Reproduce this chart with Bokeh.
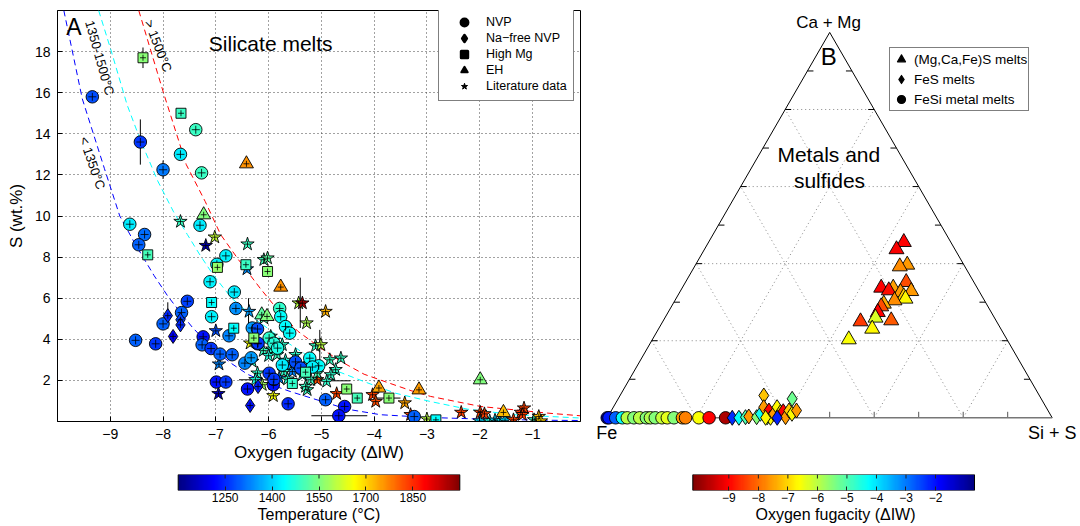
import numpy as np
from bokeh.plotting import figure
from bokeh.models import (ColumnDataSource, LinearColorMapper, Legend, LegendItem, Label,
                          FixedTicker, CustomJSTickFormatter)
from bokeh.transform import transform
from bokeh.layouts import row, column
from bokeh.embed import file_html
from bokeh.resources import INLINE

FONT = "Liberation Sans"

# ---------------- Panel A data: oxygen fugacity (dIW), S (wt.%), temperature (C) ----------------
nvp_x = [-9.34, -8.43, -8.00, -7.67, -7.38, -7.27, -8.63, -8.35, -8.46, -7.30, -6.81, -6.98, -7.11, -6.65,
         -7.54, -7.08, -6.62, -7.65, -8.52, -8.14, -8.00, -7.24, -7.26, -7.09, -6.92, -6.75, -6.69, -6.99,
         -6.81, -6.40, -6.45, -6.33, -6.31, -6.21, -5.99, -5.91, -5.63, -5.79, -5.77, -5.68, -5.99, -5.90,
         -5.83, -6.21, -6.20, -5.60, -5.22, -5.05, -4.92, -4.56, -4.67, -3.24, -5.49, -5.39, -5.17, -5.90, -5.74]
nvp_s = [15.8, 13.6, 12.25, 13.0, 14.2, 12.1, 9.6, 9.1, 8.6, 9.55, 8.06, 7.65, 6.8, 6.3,
         5.85, 5.1, 5.5, 5.3, 3.95, 3.78, 4.75, 4.12, 3.73, 3.55, 3.28, 4.17, 3.25, 1.92,
         1.92, 1.58, 2.84, 3.1, 4.55, 3.78, 2.35, 1.79, 0.86, 5.5, 5.1, 4.62, 4.06, 3.81,
         3.57, 4.5, 3.81, 4.3, 3.08, 2.71, 1.06, 0.73, 0.28, 0.24, 2.9, 2.6, 2.65, 2.05, 2.75]
nvp_t = [1280, 1260, 1320, 1420, 1490, 1490, 1420, 1310, 1300, 1420, 1430, 1430, 1430, 1420,
         1270, 1430, 1340, 1300, 1300, 1260, 1300, 1230, 1300, 1260, 1300, 1330, 1300, 1230,
         1260, 1230, 1330, 1350, 1350, 1270, 1260, 1230, 1250, 1480, 1440, 1440, 1480, 1470,
         1460, 1280, 1260, 1440, 1440, 1440, 1300, 1230, 1230, 1300, 1280, 1280, 1430, 1260, 1420]

naf_x = [-7.91, -7.67, -7.67, -7.81, -6.35, -6.20]
naf_s = [5.15, 4.95, 4.70, 4.14, 0.78, 1.70]
naf_t = [1250, 1270, 1250, 1200, 1230, 1240]

hmg_x = [-8.38, -7.66, -8.29, -6.97, -6.43, -6.02, -7.08, -6.66, -6.28, -4.52, -4.32, -3.72, -2.83, -5.55, -5.30]
hmg_s = [17.7, 15.0, 8.11, 7.5, 7.63, 7.3, 5.79, 4.54, 4.06, 1.58, 1.14, 1.14, 0.08, 1.85, 2.4]
hmg_t = [1560, 1490, 1500, 1570, 1490, 1560, 1440, 1440, 1560, 1560, 1500, 1560, 1440, 1480, 1500]

eh_x = [-6.42, -7.23, -6.13, -6.03, -5.77, -3.91, -3.15, -1.99, -1.55]
eh_s = [12.54, 10.06, 5.19, 5.11, 6.54, 1.63, 1.54, 2.03, 0.44]
eh_t = [1760, 1550, 1520, 1550, 1760, 1740, 1750, 1550, 1720]

lit_x = [-7.67, -7.02, -7.19, -6.40, -6.09, -6.02, -6.41, -6.37, -7.00, -6.94, -6.95, -6.35, -6.21, -6.12,
         -5.91, -6.09, -5.63, -5.43, -5.36, -5.28, -4.92, -5.11, -5.01, -4.84, -4.63, -4.73, -4.82, -4.90,
         -5.08, -5.27, -5.30, -4.71, -4.03, -3.97, -3.42, -3.31, -3.00, -2.35, -1.99, -1.91, -2.00, -1.81,
         -1.71, -1.62, -1.52, -1.36, -1.22, -1.16, -1.19, -0.97, -0.88, -0.84,
         -5.96, -5.90, -6.10, -5.93, -6.00, -5.84, -5.68, -5.58, -5.46, -5.33, -5.36, -5.55, -5.71, -5.80,
         -5.64, -6.25, -5.20, -5.08, -5.27, -5.49, -5.74, -6.31]
lit_s = [9.73, 8.97, 8.56, 8.63, 7.87, 7.95, 7.42, 5.35, 4.41, 2.79, 1.35, 3.81, 2.35, 1.79,
         1.25, 5.03, 4.38, 5.76, 5.76, 4.79, 5.35, 3.68, 3.73, 3.00, 3.08, 2.52, 2.27, 1.95,
         2.03, 1.54, 1.70, 1.35, 1.30, 0.97, 0.90, 0.33, 0.12, 0.44, 0.44, 0.37, 0.02, 0.02,
         0.06, 0.02, 0.06, 0.08, 0.44, 0.65, 0.33, 0.08, 0.24, 0.02,
         4.14, 3.94, 3.45, 3.52, 3.20, 3.25, 2.97, 2.76, 2.76, 2.60, 2.27, 2.43, 2.43, 2.11,
         2.06, 2.03, 2.03, 2.35, 2.60, 3.25, 3.73, 2.92]
lit_t = [1490, 1610, 1140, 1490, 1500, 1520, 1340, 1350, 1280, 1330, 1160, 1650, 1480, 1580,
         1650, 1500, 1480, 1600, 1960, 1590, 1730, 1490, 1600, 1490, 1490, 1480, 1480, 1480,
         1820, 1490, 1490, 1830, 1830, 1820, 1740, 1830, 1600, 1830, 1830, 1830, 1400, 1460,
         1400, 1420, 1400, 1830, 1840, 1830, 1830, 1490, 1720, 1700,
         1490, 1470, 1490, 1480, 1470, 1490, 1470, 1350, 1480, 1470, 1470, 1330, 1480, 1330,
         1480, 1460, 1490, 1500, 1300, 1480, 1480, 1490]

# large error bars (vertical: x, low, high ; horizontal: y, low, high)
vbar_x = [-8.43, -8.38, -8.00, -7.91, -6.38, -6.22, -5.40, -5.03]
vbar_lo = [12.5, 17.2, 11.8, 4.5, 4.7, 4.05, 4.55, 1.95]
vbar_hi = [14.7, 18.2, 12.7, 5.8, 6.0, 4.95, 7.0, 4.46]
hbar_y = [0.28, 2.03, 1.98, 1.14]
hbar_lo = [-5.19, -6.56, -5.05, -3.95]
hbar_hi = [-4.13, -5.96, -4.45, -3.50]

# model curves
blue_x = [-9.88, -9.53, -9.11, -8.82, -8.52, -8.17, -7.91, -7.67, -7.45, -7.10, -6.72, -6.40, -6.02, -5.58,
          -5.14, -4.51, -3.88, -3.00, -2.00, -0.72, -0.10]
blue_s = [20.0, 15.7, 12.3, 10.0, 8.6, 7.1, 6.1, 5.3, 4.6, 3.65, 2.85, 2.3, 1.85, 1.45,
          1.1, 0.6, 0.33, 0.2, 0.12, 0.06, 0.05]
cyan_x = [-9.22, -8.99, -8.68, -8.43, -8.10, -7.80, -7.54, -7.30, -7.04, -6.70, -6.21, -5.71, -5.20, -4.70,
          -4.20, -3.60, -2.93, -2.23, -1.35, -0.10]
cyan_s = [20.0, 18.1, 15.4, 13.7, 11.7, 10.2, 9.1, 8.1, 7.1, 6.0, 4.9, 3.95, 3.1, 2.45,
          1.95, 1.38, 0.97, 0.6, 0.33, 0.17]
red_x = [-8.46, -8.11, -7.98, -7.56, -7.20, -6.91, -6.55, -6.15, -5.80, -5.45, -5.01, -4.63, -4.19, -3.75,
         -3.30, -2.93, -1.98, -0.72, -0.10]
red_s = [20.0, 17.0, 15.9, 12.5, 10.7, 9.1, 7.8, 6.45, 5.35, 4.4, 3.57, 2.92, 2.3, 1.9,
         1.5, 1.22, 0.73, 0.41, 0.28]

x_ticks = [-9, -8, -7, -6, -5, -4, -3, -2, -1]
y_ticks = [2, 4, 6, 8, 10, 12, 14, 16, 18]
t_ticks = [1250, 1400, 1550, 1700, 1850]
f_ticks = [-9, -8, -7, -6, -5, -4, -3, -2]

# ---------------- Panel B data: ternary fractions (Ca+Mg, Si+S) and fO2 ----------------
tri_camg = [0.4557, 0.4370, 0.3970, 0.3926, 0.3519, 0.3373, 0.3373, 0.3304, 0.3285, 0.3259, 0.3148,
            0.3088, 0.3044, 0.2958, 0.2888, 0.2740, 0.2595, 0.2499, 0.2525, 0.2309, 0.2032]
tri_sis = [0.4387, 0.4316, 0.4757, 0.4612, 0.4960, 0.4471, 0.4741, 0.4676, 0.5189, 0.4962, 0.5091,
           0.5159, 0.4934, 0.4737, 0.4713, 0.4711, 0.4732, 0.4443, 0.5120, 0.4801, 0.4413]
tri_fo2 = [-9.0, -9.1, -7.6, -7.7, -8.3, -9.0, -7.5, -8.9, -7.6, -7.6, -7.1,
           -6.7, -7.7, -7.4, -8.3, -9.0, -6.3, -8.5, -8.2, -6.7, -6.6]

dia_camg = [0.0, 0.0, 0.0016, 0.0034, 0.0016, 0.0104, 0.0579, 0.0275, 0.0016, 0.0189, 0.0,
            0.0104, 0.0275, 0.0145, 0.0171, 0.0016, 0.0189, 0.0493, 0.0104, 0.0189, 0.0, 0.0]
dia_sis = [0.281, 0.296, 0.310, 0.3165, 0.335, 0.339, 0.323, 0.338, 0.359, 0.354, 0.367,
           0.369, 0.368, 0.382, 0.387, 0.400, 0.399, 0.391, 0.410, 0.416, 0.382, 0.356]
dia_fo2 = [-2.3, -4.3, -5.0, -7.6, -5.5, -4.4, -7.2, -7.6, -5.6, -9.0, -6.7,
           -7.6, -6.7, -6.8, -9.0, -7.6, -7.1, -5.3, -6.7, -7.6, -2.2, -6.7]

cir_sis = [0.000, 0.004, 0.019, 0.034, 0.045, 0.060, 0.073, 0.088, 0.097, 0.108, 0.123,
           0.135, 0.150, 0.169, 0.176, 0.206, 0.229, 0.266]
cir_fo2 = [-1.0, -2.1, -2.8, -4.3, -6.0, -5.5, -6.0, -5.5, -5.9, -5.5, -6.1,
           -6.4, -5.5, -7.6, -7.8, -6.6, -9.0, -9.8]

tern_grid = [0.2, 0.4, 0.6, 0.8]
tern_ticks = [0.1, 0.2, 0.3, 0.4, 0.5, 0.6, 0.7, 0.8, 0.9]


def jet(n=256):
    cols = []
    for i in range(n):
        f = i / (n - 1)
        r = min(max(1.5 - abs(4 * f - 3), 0), 1)
        g = min(max(1.5 - abs(4 * f - 2), 0), 1)
        b = min(max(1.5 - abs(4 * f - 1), 0), 1)
        cols.append('#%02x%02x%02x' % (int(round(r * 255)), int(round(g * 255)), int(round(b * 255))))
    return cols


JET = jet()
T_LOW, T_HIGH = 1100, 2000
F_LOW, F_HIGH = -10.22, -0.68
t_mapper = LinearColorMapper(palette=JET, low=T_LOW, high=T_HIGH)
f_mapper = LinearColorMapper(palette=JET[::-1], low=F_LOW, high=F_HIGH)

minus_fmt = CustomJSTickFormatter(code="return (tick < 0 ? '\u2212' : '') + Math.abs(tick);")

TOP, BOTTOM_MAIN = 10, 42
CB_TOP, CB_BOTTOM = 10, 36
MAIN_H = 464
INK = "black"

# ======================= Panel A =======================
p1 = figure(width=590, height=MAIN_H, x_range=(-10, -0.09), y_range=(0, 20),
            min_border_left=57, min_border_right=10, min_border_top=TOP, min_border_bottom=BOTTOM_MAIN,
            output_backend="svg", toolbar_location=None)
p1.outline_line_color = "black"
p1.outline_line_width = 1
for ax in (p1.xaxis[0], p1.yaxis[0]):
    ax.major_tick_in = 5
    ax.major_tick_out = 0
    ax.minor_tick_line_color = None
    ax.axis_line_color = "black"
    ax.major_tick_line_color = "black"
    ax.major_label_text_font = FONT
    ax.major_label_text_font_size = "14px"
    ax.major_label_text_color = INK
    ax.axis_label_text_font = FONT
    ax.axis_label_text_font_size = "17px"
    ax.axis_label_text_font_style = "normal"
    ax.axis_label_text_color = INK
    ax.formatter = minus_fmt
p1.xaxis.ticker = FixedTicker(ticks=x_ticks)
p1.yaxis.ticker = FixedTicker(ticks=y_ticks)
p1.xaxis.axis_label = "Oxygen fugacity (ΔIW)"
p1.yaxis.axis_label = "S (wt.%)"
p1.xaxis.major_label_standoff = 7
p1.xaxis.axis_label_standoff = 1
p1.yaxis.major_label_standoff = 7
p1.yaxis.axis_label_standoff = 6
p1.grid.grid_line_color = "#444444"
p1.grid.grid_line_dash = "1 3"
p1.grid.grid_line_width = 1

p1.line(blue_x, blue_s, line_color="#0000ff", line_dash="6 4", line_width=1)
p1.line(cyan_x, cyan_s, line_color="#00ffff", line_dash="6 4", line_width=1)
p1.line(red_x, red_s, line_color="#ff0000", line_dash="6 4", line_width=1)

p1.segment(x0=vbar_x, y0=vbar_lo, x1=vbar_x, y1=vbar_hi, line_color="black", line_width=1)
p1.segment(x0=hbar_lo, y0=hbar_y, x1=hbar_hi, y1=hbar_y, line_color="black", line_width=1)

series = [
    ("Literature data", lit_x, lit_s, lit_t, "star", 14, 6, 1.0),
    ("NVP", nvp_x, nvp_s, nvp_t, "circle", 12.5, 8, 3.5),
    ("Na\u2212free NVP", naf_x, naf_s, naf_t, "diamond", 14, 6, 3.0),
    ("High Mg", hmg_x, hmg_s, hmg_t, "square", 10, 6, 3.0),
    ("EH", eh_x, eh_s, eh_t, "triangle", 14, 6, 2.0),
]
legend_refs = {}
for lab, xs, ss, ts, mk, sz, csz, lw in series:
    src = ColumnDataSource(dict(x=xs, s=ss, t=ts))
    p1.scatter("x", "s", source=src, marker=mk, size=sz, fill_color=transform("t", t_mapper),
               line_color="black", line_width=0.9)
    p1.scatter("x", "s", source=src, marker="cross", size=csz, line_color="black", line_width=0.8)
    # hidden black copy of the first point, only used to draw the legend swatch
    key = p1.scatter(x=xs[:1], y=ss[:1], marker=mk, size=sz, fill_color="black", line_color="black",
                     line_width=lw, line_join="round", visible=False)
    legend_refs[lab] = key

order = ["NVP", "Na\u2212free NVP", "High Mg", "EH", "Literature data"]
leg1 = Legend(items=[LegendItem(label=l, renderers=[legend_refs[l]]) for l in order],
              location=(381, 412 - 92), glyph_height=16, label_height=16, glyph_width=38,
              spacing=0, padding=6, label_standoff=3, margin=0, click_policy="none",
              label_text_font=FONT, label_text_font_size="12.5px", label_text_color=INK,
              border_line_color="black", border_line_width=1, background_fill_alpha=1.0)
p1.add_layout(leg1, "center")

def lab1(x, y, text, size, angle=0.0):
    p1.add_layout(Label(x=x, y=y, text=text, text_font=FONT, text_font_size=size, text_color=INK,
                        text_align="center", text_baseline="middle", angle=angle, angle_units="rad"))

lab1(-9.69, 19.18, "A", "23px")
lab1(-5.96, 18.40, "Silicate melts", "21px")
lab1(-9.20, 17.7, "1350-1500°C", "13px", -1.30)
lab1(-9.34, 12.58, "< 1350°C", "13px", -1.24)
lab1(-8.09, 18.28, "> 1500°C", "13px", -1.20)

# ======================= Panel B (ternary) =======================
S3 = np.sqrt(3) / 2
PX = 445.0
FE_X, BASE_Y = 16.7, 417.3
p2 = figure(width=490, height=MAIN_H, x_range=(-FE_X / PX, (490 - FE_X) / PX),
            y_range=(-(MAIN_H - BASE_Y) / PX, BASE_Y / PX),
            min_border=0, x_axis_location=None, y_axis_location=None,
            output_backend="svg", toolbar_location=None)
p2.outline_line_color = None
p2.grid.visible = False

g = np.array(tern_grid)
p2.segment(x0=g / 2, y0=g * S3, x1=1 - g / 2, y1=g * S3, line_color="#888888", line_dash="1 3", line_width=1)
p2.segment(x0=g, y0=0 * g, x1=g + (1 - g) / 2, y1=(1 - g) * S3, line_color="#888888", line_dash="1 3", line_width=1)
p2.segment(x0=1 - g, y0=0 * g, x1=(1 - g) / 2, y1=(1 - g) * S3, line_color="#888888", line_dash="1 3", line_width=1)

tk = np.array(tern_ticks)
TL = 6 / PX
p2.segment(x0=tk, y0=0 * tk, x1=tk, y1=0 * tk + TL, line_color="#555555", line_width=1)
p2.segment(x0=tk / 2, y0=tk * S3, x1=tk / 2 + TL, y1=tk * S3, line_color="black", line_width=1)
p2.segment(x0=1 - tk / 2, y0=tk * S3, x1=1 - tk / 2 - TL, y1=tk * S3, line_color="black", line_width=1)

p2.line([0, 0.5, 1], [0, S3, 0], line_color="black", line_width=1)
p2.line([0, 1], [0, 0], line_color="#777777", line_width=1.5)

cir_x = list(cir_sis)
cir_y = [0.0] * len(cir_sis)
dia_x = [s + c / 2 for s, c in zip(dia_sis, dia_camg)]
dia_y = [c * S3 for c in dia_camg]
tri_x = [s + c / 2 for s, c in zip(tri_sis, tri_camg)]
tri_y = [c * S3 for c in tri_camg]

legend_refs2 = {}
for lab, xs, ys, fs, mk, sz in [("FeSi metal melts", cir_x, cir_y, cir_fo2, "circle", 12.5),
                                ("FeS melts", dia_x, dia_y, dia_fo2, "diamond", 15),
                                ("(Mg,Ca,Fe)S melts", tri_x, tri_y, tri_fo2, "triangle", 15)]:
    src = ColumnDataSource(dict(x=xs, y=ys, f=fs))
    p2.scatter("x", "y", source=src, marker=mk, size=sz,
               fill_color=transform("f", f_mapper), line_color="black", line_width=0.9)
    legend_refs2[lab] = p2.scatter(x=xs[:1], y=ys[:1], marker=mk, size=sz, fill_color="black",
                                   line_color="black", line_width=1.2, line_join="round", visible=False)

order2 = ["(Mg,Ca,Fe)S melts", "FeS melts", "FeSi metal melts"]
leg2 = Legend(items=[LegendItem(label=l, renderers=[legend_refs2[l]]) for l in order2],
              location=(299, MAIN_H - 49 - 62), glyph_height=20, label_height=20,
              glyph_width=20, spacing=0, padding=1, label_standoff=3, margin=0, click_policy="none",
              label_text_font=FONT, label_text_font_size="13.5px", label_text_color=INK,
              border_line_color="black", border_line_width=1, background_fill_alpha=1.0)
p2.add_layout(leg2, "center")

def tl(x, ypix, text, size):
    p2.add_layout(Label(x=x, y=(BASE_Y - ypix) / PX, text=text, text_font=FONT, text_font_size=size,
                        text_color=INK, text_align="center", text_baseline="middle"))

tl(0.4975, 21.5, "Ca + Mg", "17px")
tl(0.498, 56, "B", "24px")
tl(0.498, 153.5, "Metals and", "21px")
tl(0.4996, 180, "sulfides", "21px")
tl(-0.001, 432, "Fe", "18px")
tl(1.0, 432, "Si + S", "18px")

# ======================= Colour bars =======================
def colorbar(width, left, right, bar_left, bar_right, low, high, mapper, ticks, title):
    frame_w = width - left - right
    upp = (high - low) / (bar_right - bar_left)
    x0 = low - (bar_left - left) * upp
    x1 = high + (left + frame_w - bar_right) * upp
    cb = figure(width=width, height=62, x_range=(x0, x1), y_range=(0, 1),
                min_border_left=left, min_border_right=right, min_border_top=CB_TOP,
                min_border_bottom=CB_BOTTOM, y_axis_location=None,
                output_backend="svg", toolbar_location=None)
    cb.grid.visible = False
    cb.outline_line_color = None
    ramp = np.linspace(low, high, 256)[None, :]
    cb.image(image=[ramp], x=low, y=0, dw=high - low, dh=1, color_mapper=mapper)
    cb.segment(x0=ticks, y0=[1] * len(ticks), x1=ticks, y1=[0.75] * len(ticks),
               line_color="#222222", line_width=1)
    cb.quad(left=[low], right=[high], bottom=[0], top=[1], fill_alpha=0,
            line_color="black", line_width=1)
    ax = cb.xaxis[0]
    ax.ticker = FixedTicker(ticks=ticks)
    ax.major_tick_in = 4
    ax.major_tick_out = 0
    ax.major_tick_line_color = "#222222"
    ax.minor_tick_line_color = None
    ax.axis_line_color = None
    ax.major_label_standoff = 2
    ax.major_label_text_font = FONT
    ax.major_label_text_font_size = "12px"
    ax.major_label_text_color = INK
    ax.axis_label = title
    ax.axis_label_standoff = 1
    ax.axis_label_text_font = FONT
    ax.axis_label_text_font_size = "16px"
    ax.axis_label_text_font_style = "normal"
    ax.axis_label_text_color = INK
    return cb

cb1 = colorbar(590, 57, 10, 177.7, 459.3, T_LOW, T_HIGH, t_mapper, t_ticks, "Temperature (°C)")
cb2 = colorbar(490, 0, 0, 102.3, 384.0, F_LOW, F_HIGH, f_mapper, f_ticks, "Oxygen fugacity (ΔIW)")

layout = row(column(p1, cb1), column(p2, cb2))
open("out.html", "w", encoding="utf-8").write(file_html(layout, INLINE))
